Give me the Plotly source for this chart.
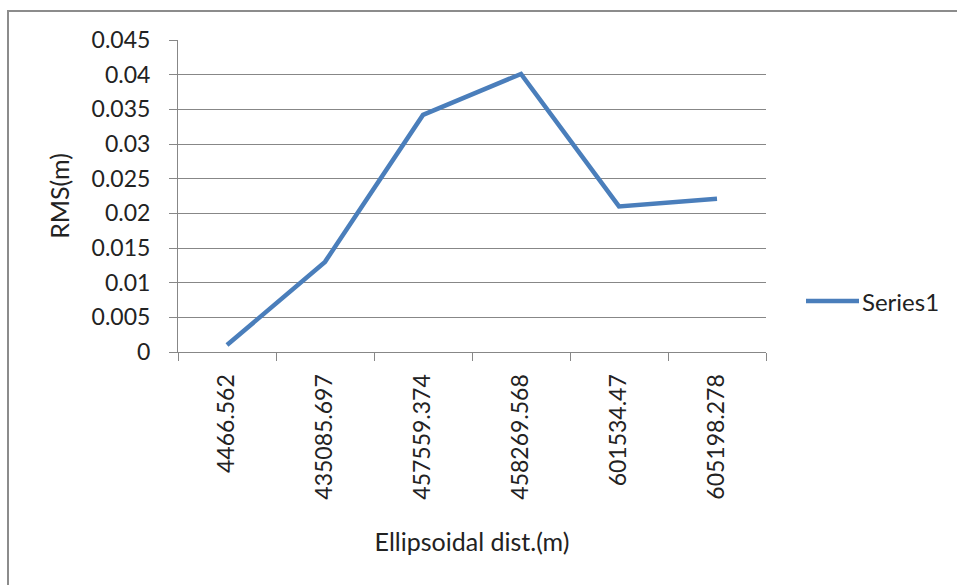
import plotly.graph_objects as go

# Ellipsoidal distances (category labels) and RMS values
distances = ["4466.562", "435085.697", "457559.374", "458269.568", "601534.47", "605198.278"]
rms = [0.001, 0.013, 0.0342, 0.0401, 0.021, 0.0221]
y_ticks = [0, 0.005, 0.01, 0.015, 0.02, 0.025, 0.03, 0.035, 0.04, 0.045]
y_tick_text = ["0", "0.005", "0.01", "0.015", "0.02", "0.025", "0.03", "0.035", "0.04", "0.045"]
series_name = "Series1"

W, H = 957, 585
L, R, T, B = 178, 191, 40, 233
pw, ph = W - L - R, H - T - B

FONT = "Lato, Open Sans, sans-serif"
GRID = "#878787"
BLUE = "#4a7ebb"
TEXT = "#222222"

fig = go.Figure()
fig.add_trace(go.Scatter(
    x=distances, y=rms, mode="lines", name=series_name,
    line=dict(color=BLUE, width=4.5), showlegend=False,
))

def px_x(x):
    return (x - L) / pw

def px_y(y):
    return (H - B - y) / ph

# Outer chart frame
fig.add_shape(type="rect", xref="paper", yref="paper",
              x0=px_x(8), x1=px_x(W + 20), y0=px_y(H + 20), y1=px_y(11),
              line=dict(color="#8c8c8c", width=2), layer="below")

# Legend entry
fig.add_shape(type="line", xref="paper", yref="paper",
              x0=px_x(806), x1=px_x(859), y0=px_y(301), y1=px_y(301),
              line=dict(color=BLUE, width=4.5))
fig.add_annotation(xref="paper", yref="paper", x=px_x(860), y=px_y(301),
                   text=series_name, showarrow=False, xanchor="left", yanchor="middle",
                   font=dict(family=FONT, size=24, color=TEXT))

fig.update_layout(
    width=W, height=H,
    margin=dict(l=L, r=R, t=T, b=B, autoexpand=False),
    paper_bgcolor="white", plot_bgcolor="white",
    font=dict(family=FONT, size=23, color=TEXT),
    xaxis=dict(
        type="category", range=[-0.5, 5.5], tickson="boundaries",
        ticks="outside", ticklen=8, tickcolor=GRID, tickwidth=1,
        showline=True, linecolor=GRID, linewidth=1,
        showgrid=False, tickangle=-90, ticklabelstandoff=12,
        tickfont=dict(family=FONT, size=23, color=TEXT),
        title=dict(text="Ellipsoidal dist.(m)", standoff=34,
                   font=dict(family=FONT, size=25, color=TEXT)),
    ),
    yaxis=dict(
        range=[0, 0.045], tickvals=y_ticks, ticktext=y_tick_text,
        ticks="outside", ticklen=8, tickcolor=GRID, tickwidth=1,
        showline=True, linecolor=GRID, linewidth=1,
        showgrid=True, gridcolor=GRID, gridwidth=1, zeroline=False,
        ticklabelstandoff=14,
        tickfont=dict(family=FONT, size=23, color=TEXT),
        title=dict(text="RMS(m)", standoff=14,
                   font=dict(family=FONT, size=25, color=TEXT)),
    ),
)

fig.write_html("out.html")
